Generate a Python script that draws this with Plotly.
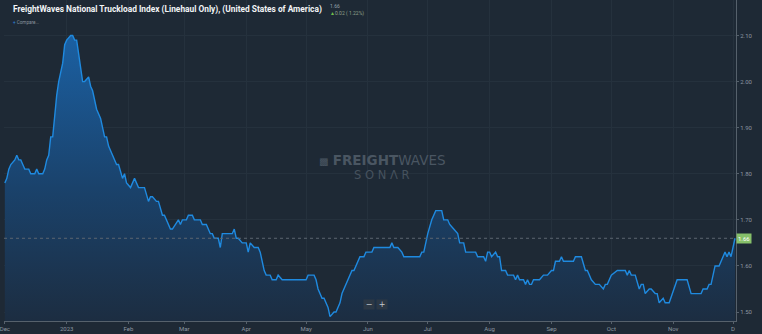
import pandas as pd
import plotly.graph_objects as go

# National Truckload Index (linehaul only), daily observations
START = "2022-12-01"
day_offset = [
    0, 1, 2, 3, 5, 6, 7, 8, 9, 10, 12, 13, 15, 16, 17, 19, 20, 21, 22, 23, 24, 25, 26, 27, 28, 29, 30, 31,
    33, 34, 35, 36, 37, 38, 39, 40, 42, 43, 44, 45, 46, 48, 49, 50, 51, 52, 54, 56, 57, 59, 60, 61, 63, 65,
    67, 70, 72, 73, 74, 76, 77, 79, 80, 83, 84, 87, 88, 89, 91, 92, 94, 95, 98, 99, 101, 103, 104, 105, 107,
    108, 109, 114, 115, 116, 117, 119, 120, 121, 122, 123, 125, 127, 128, 130, 131, 133, 134, 136, 137, 139,
    151, 152, 155, 156, 157, 159, 160, 162, 163, 165, 166, 168, 169, 171, 174, 175, 176, 178, 180, 181, 184,
    185, 193, 194, 195, 197, 199, 200, 208, 209, 210, 212, 214, 216, 219, 220, 222, 223, 225, 227, 228, 230,
    231, 232, 236, 237, 240, 241, 242, 243, 244, 246, 247, 248, 249, 251, 252, 255, 256, 257, 258, 260, 261,
    262, 263, 264, 265, 268, 270, 272, 274, 275, 276, 278, 279, 280, 285, 286, 289, 291, 292, 294, 296, 298,
    300, 301, 302, 304, 307, 311, 312, 313, 314, 316, 318, 319, 320, 321, 323, 324, 326, 327, 328, 330, 331,
    333, 337, 342, 344, 349, 350, 352, 353, 354, 356, 358, 359, 361, 362, 363, 364, 365, 366,
]
nti_value = [
    1.78, 1.79, 1.81, 1.82, 1.83, 1.84, 1.83, 1.83, 1.82, 1.81, 1.81, 1.80, 1.80, 1.81, 1.80, 1.80, 1.81, 1.83,
    1.84, 1.88, 1.88, 1.93, 1.97, 2.00, 2.02, 2.04, 2.08, 2.09,
    2.10, 2.10, 2.09, 2.09, 2.06, 2.03, 2.00, 2.00, 2.01, 1.99, 1.98, 1.96, 1.94, 1.92, 1.90, 1.88, 1.88, 1.86,
    1.84, 1.82, 1.82, 1.79, 1.80, 1.78, 1.77, 1.79,
    1.77, 1.77, 1.74, 1.75, 1.75, 1.74, 1.74, 1.71, 1.71, 1.68, 1.68, 1.70, 1.69, 1.70, 1.70, 1.71, 1.71, 1.70,
    1.70, 1.69, 1.69, 1.67, 1.67, 1.66, 1.66,
    1.64, 1.67, 1.67, 1.68, 1.66, 1.66, 1.65, 1.65, 1.65, 1.63, 1.65, 1.64, 1.64, 1.63, 1.59, 1.58, 1.58, 1.57,
    1.57, 1.58, 1.57,
    1.57, 1.58, 1.58, 1.57, 1.55, 1.53, 1.53, 1.51, 1.49, 1.50, 1.50, 1.52, 1.54, 1.56, 1.59, 1.59, 1.60, 1.62,
    1.62, 1.63, 1.63,
    1.64, 1.64, 1.65, 1.64, 1.64, 1.63, 1.62, 1.62, 1.63, 1.63, 1.67, 1.70, 1.72, 1.72, 1.70, 1.70, 1.69, 1.68,
    1.67, 1.65, 1.65,
    1.63, 1.63, 1.63, 1.62, 1.62, 1.61, 1.63, 1.63, 1.62, 1.63, 1.62, 1.62, 1.59, 1.59, 1.58, 1.58, 1.57, 1.58,
    1.57, 1.57, 1.56,
    1.57, 1.56, 1.56, 1.57, 1.57, 1.58, 1.58, 1.59, 1.59, 1.61, 1.61, 1.62, 1.61, 1.61, 1.62, 1.62, 1.59, 1.59,
    1.57, 1.56, 1.56,
    1.55, 1.56, 1.56, 1.58, 1.59, 1.59, 1.58, 1.59, 1.58, 1.58, 1.55, 1.56, 1.56, 1.54, 1.55, 1.55, 1.54, 1.54,
    1.52, 1.53, 1.52,
    1.52, 1.57, 1.57, 1.54, 1.54, 1.55, 1.55, 1.56, 1.56, 1.60, 1.60, 1.61, 1.63, 1.62, 1.63, 1.62, 1.64, 1.66,
]

tick_dates = ["2022-12-01", "2023-01-01", "2023-02-01", "2023-03-01", "2023-04-01", "2023-05-01",
              "2023-06-01", "2023-07-01", "2023-08-01", "2023-09-01", "2023-10-01", "2023-11-01",
              "2023-12-01"]
tick_labels = ["Dec", "2023", "Feb", "Mar", "Apr", "May", "Jun", "Jul", "Aug", "Sep", "Oct", "Nov", "D"]
y_ticks = [1.50, 1.60, 1.70, 1.80, 1.90, 2.00, 2.10]

last_value = nti_value[-1]
change = 0.02
change_pct = 1.22

dates = pd.Timestamp(START) + pd.to_timedelta(day_offset, unit="D")

BG = "#1e2935"
GRID = "#25313d"
AXIS = "#56616c"
TICK_TXT = "#8c97a1"
LINE = "#1f8ae0"

fig = go.Figure()
fig.add_trace(go.Scatter(
    x=dates, y=nti_value, mode="lines",
    line=dict(color=LINE, width=1.4),
    fill="tozeroy",
    fillgradient=dict(
        type="vertical", start=1.48, stop=2.12,
        colorscale=[[0, "#1c2d41"], [0.45, "#1a426b"], [1, "#1b62a6"]],
    ),
    hoverinfo="skip", showlegend=False,
))

fig.add_hline(y=last_value, line=dict(color="#5c6670", width=1, dash="dot"))

anns = [
    dict(x=0.0095, y=0.969, xref="paper", yref="paper", xanchor="left", yanchor="middle",
         text="<b>FreightWaves National Truckload Index (Linehaul Only), (United States of America)</b>",
         font=dict(family="Liberation Sans Narrow, Roboto", size=8.35, color="#f2f4f6"), showarrow=False),
    dict(x=0.4425, y=0.980, xref="paper", yref="paper", xanchor="left", yanchor="middle",
         text=f"{last_value:.2f}", font=dict(family="Roboto", size=5, color="#9aa4ad"), showarrow=False),
    dict(x=0.4425, y=0.957, xref="paper", yref="paper", xanchor="left", yanchor="middle",
         text=f"<span style='color:#6fbf4a'>▲</span>{change:.2f} ( {change_pct:.2f}%)",
         font=dict(family="Roboto", size=5, color="#8fa08a"), showarrow=False),
    dict(x=0.010, y=0.929, xref="paper", yref="paper", xanchor="left", yanchor="middle",
         text="<span style='color:#2f8be0'>+</span> Compare...",
         font=dict(family="Roboto", size=4.6, color="#8a949e"), showarrow=False),
    # watermark
    dict(x=0.517, y=0.502, xref="paper", yref="paper", xanchor="center", yanchor="middle",
         text="<span style='font-size:10px'>▩</span> <b>FREIGHT</b>WAVES",
         font=dict(family="DejaVu Sans", size=13.5, color="#4a5662"), showarrow=False),
    dict(x=0.5156, y=0.455, xref="paper", yref="paper", xanchor="center", yanchor="middle",
         text="S O N Λ R",
         font=dict(family="DejaVu Sans", size=11.5, color="#46525e"), showarrow=False),
    # zoom buttons
    dict(x=0.4985, y=0.05, xref="paper", yref="paper", xanchor="center", yanchor="middle",
         text="−", font=dict(family="DejaVu Sans", size=8, color="#c3cad0"), bgcolor="#2c3845",
         borderpad=0, width=10, height=9, showarrow=False),
    dict(x=0.5165, y=0.05, xref="paper", yref="paper", xanchor="center", yanchor="middle",
         text="+", font=dict(family="DejaVu Sans", size=8, color="#c3cad0"), bgcolor="#2c3845",
         borderpad=0, width=10, height=9, showarrow=False),
    # last value tag
    dict(x=1.0, y=last_value, xref="paper", yref="y", xanchor="left", yanchor="middle",
         text=f"{last_value:.2f}", font=dict(family="Roboto", size=6, color="#ffffff"),
         bgcolor="#86c06a", borderpad=1, showarrow=False),
]
fig.update_layout(annotations=anns)

fig.update_layout(
    width=762, height=334,
    margin=dict(l=0, r=26, t=0, b=13),
    paper_bgcolor=BG, plot_bgcolor=BG,
    xaxis=dict(
        type="date", range=["2022-11-30 14:00", "2023-12-02 12:00"],
        tickvals=tick_dates, ticktext=tick_labels, ticklabeloverflow="allow",
        showgrid=True, gridcolor=GRID, gridwidth=1,
        showline=True, linecolor=AXIS, linewidth=1,
        ticks="outside", ticklen=2, tickcolor=AXIS,
        tickfont=dict(family="Roboto", size=6, color=TICK_TXT), zeroline=False,
    ),
    yaxis=dict(
        side="right", range=[1.4805, 2.177],
        tickvals=y_ticks, ticktext=[f"{v:.2f}" for v in y_ticks],
        showgrid=True, gridcolor=GRID, gridwidth=1,
        showline=True, linecolor=AXIS, linewidth=1,
        ticks="outside", ticklen=2, tickcolor=AXIS,
        tickfont=dict(family="Roboto", size=6, color=TICK_TXT), zeroline=False,
    ),
)

fig.write_html("out.html")
